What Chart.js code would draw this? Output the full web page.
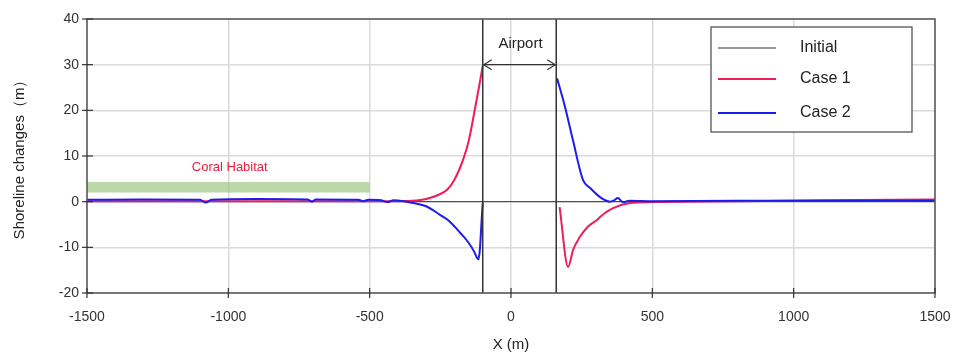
<!DOCTYPE html>
<html>
<head>
<meta charset="utf-8">
<script src="https://cdn.jsdelivr.net/npm/chart.js@4/dist/chart.umd.min.js"></script>
<style>
html,body{margin:0;padding:0;background:#fff;}
#wrap{width:960px;height:360px;}
</style>
</head>
<body>
<div id="wrap"><canvas id="c" width="960" height="360"></canvas></div>
<script>
// ---- data ----
const initialX = [-1500, 1500];
const initialY = [0, 0];

const case1X = [-1500,-1000,-600,-400,-350,-300,-260,-226,-200,-170,-150,-127,-115,-100, 30, 172,202,220,244,270,304,330,361,421,500,800,1100,1500];
const case1Y = [0.1,0.1,0.1,0.1,0.2,0.6,1.4,2.6,4.8,9.1,13.2,20.5,24.5,29.7, null, -1.2,-14.3,-10.5,-7.7,-5.6,-4,-2.6,-1.4,-0.3,-0.1,0.1,0.3,0.5];

const case2X = [-1500,-1300,-1100,-1080,-1060,-900,-720,-704,-690,-540,-523,-505,-460,-438,-415,-380,-346,-300,-251,-220,-180,-150,-130,-120,-115,-100, 30, 163,190,219,255,280,315,350,365,378,396,420,500,800,1100,1500];
const case2Y = [0.4,0.45,0.4,-0.2,0.4,0.6,0.5,0.0,0.5,0.4,0.1,0.4,0.3,-0.1,0.3,0.1,-0.3,-1.0,-2.9,-4.2,-6.8,-9.0,-11.0,-12.3,-12.6,-0.3, null, 27,21,13.5,4.7,3,1,0,0.3,0.8,-0.1,0.2,0.1,0.2,0.2,0.2];

const seriesNames = ['Initial', 'Case 1', 'Case 2'];
const airportX = [-100, 160];
const airportArrowY = 30;
const coralX = [-1500, -500];
const coralY = [2, 4.3];
const coralLabelPos = [-995, 7.4];
const xTicks = [-1500, -1000, -500, 0, 500, 1000, 1500];
const yTicks = [-20, -10, 0, 10, 20, 30, 40];

const colors = { initial: '#333333', case1: '#ee1c5a', case2: '#1c1cee' };
const FONT = '"Liberation Sans", Arial, sans-serif';

function pts(xs, ys){ return xs.map((x,i)=>({x:x, y:ys[i]})); }

const decor = {
  id: 'decor',
  beforeDatasetsDraw(chart){
    const {ctx, scales:{x, y}} = chart;
    ctx.save();
    const x0 = x.getPixelForValue(coralX[0]), x1 = x.getPixelForValue(coralX[1]);
    const y0 = y.getPixelForValue(coralY[1]), y1 = y.getPixelForValue(coralY[0]);
    ctx.fillStyle = 'rgba(160,200,130,0.7)';
    ctx.fillRect(x0, y0, x1 - x0, y1 - y0);
    ctx.fillStyle = '#ee1c3c';
    ctx.font = '13px ' + FONT;
    ctx.textAlign = 'center';
    ctx.textBaseline = 'middle';
    ctx.fillText('Coral Habitat', x.getPixelForValue(coralLabelPos[0]), y.getPixelForValue(coralLabelPos[1]));
    ctx.restore();
  },
  afterDatasetsDraw(chart){
    const {ctx, chartArea:a, scales:{x, y}} = chart;
    ctx.save();
    ctx.strokeStyle = '#333';
    ctx.lineWidth = 1.5;
    const ax0 = x.getPixelForValue(airportX[0]), ax1 = x.getPixelForValue(airportX[1]);
    [ax0, ax1].forEach(px => { ctx.beginPath(); ctx.moveTo(px, a.top); ctx.lineTo(px, a.bottom); ctx.stroke(); });
    const ay = y.getPixelForValue(airportArrowY);
    ctx.lineWidth = 1.2;
    ctx.beginPath(); ctx.moveTo(ax0, ay); ctx.lineTo(ax1, ay); ctx.stroke();
    ctx.beginPath();
    ctx.moveTo(ax0 + 9, ay - 5); ctx.lineTo(ax0 + 1, ay); ctx.lineTo(ax0 + 9, ay + 5);
    ctx.moveTo(ax1 - 9, ay - 5); ctx.lineTo(ax1 - 1, ay); ctx.lineTo(ax1 - 9, ay + 5);
    ctx.stroke();
    ctx.fillStyle = '#222';
    ctx.font = '15px ' + FONT;
    ctx.textAlign = 'center';
    ctx.textBaseline = 'middle';
    ctx.fillText('Airport', (ax0 + ax1) / 2 + 1, ay - 21);
    ctx.strokeStyle = '#555';
    ctx.lineWidth = 1.5;
    ctx.strokeRect(a.left, a.top, a.right - a.left, a.bottom - a.top);
    ctx.strokeStyle = '#333';
    ctx.lineWidth = 1.2;
    yTicks.forEach(v => { const py = y.getPixelForValue(v); ctx.beginPath(); ctx.moveTo(a.left - 5, py); ctx.lineTo(a.left + 6, py); ctx.stroke(); });
    xTicks.forEach(v => { const px = x.getPixelForValue(v); ctx.beginPath(); ctx.moveTo(px, a.bottom - 5); ctx.lineTo(px, a.bottom + 5); ctx.stroke(); });
    const lx = 711, ly = 27, lw = 201, lh = 105;
    ctx.fillStyle = '#fff';
    ctx.fillRect(lx, ly, lw, lh);
    ctx.strokeStyle = '#555';
    ctx.lineWidth = 1.3;
    ctx.strokeRect(lx, ly, lw, lh);
    const rows = [[colors.initial, 1, 48], [colors.case1, 2, 79], [colors.case2, 2, 113]];
    ctx.font = '16px ' + FONT;
    ctx.textAlign = 'left';
    ctx.textBaseline = 'middle';
    rows.forEach((r, i) => {
      ctx.strokeStyle = r[0]; ctx.lineWidth = r[1];
      ctx.beginPath(); ctx.moveTo(718, r[2]); ctx.lineTo(776, r[2]); ctx.stroke();
      ctx.fillStyle = '#222';
      ctx.fillText(seriesNames[i], 800, r[2]);
    });
    ctx.restore();
  }
};

new Chart(document.getElementById('c'), {
  type: 'scatter',
  data: {
    datasets: [
      { label: seriesNames[0], data: pts(initialX, initialY), showLine: true, borderColor: colors.initial, borderWidth: 1, pointRadius: 0, order: 3 },
      { label: seriesNames[1], data: pts(case1X, case1Y), showLine: true, borderColor: colors.case1, borderWidth: 2, pointRadius: 0, spanGaps: false, order: 2, cubicInterpolationMode: 'monotone' },
      { label: seriesNames[2], data: pts(case2X, case2Y), showLine: true, borderColor: colors.case2, borderWidth: 2, pointRadius: 0, spanGaps: false, order: 1, cubicInterpolationMode: 'monotone' }
    ]
  },
  options: {
    responsive: false,
    animation: false,
    devicePixelRatio: 1,
    layout: { padding: { left: 0, right: 25, top: 19, bottom: 0 } },
    plugins: { legend: { display: false }, tooltip: { enabled: false } },
    scales: {
      x: {
        type: 'linear', min: -1500, max: 1500,
        afterBuildTicks: s => { s.ticks = xTicks.map(v => ({value: v})); },
        afterFit: s => { s.height = 67; s.paddingLeft = 0; s.paddingRight = 0; },
        grid: { color: '#dadada', lineWidth: 1.5, drawTicks: false },
        border: { display: false },
        ticks: { padding: 16, color: '#333', font: { family: FONT, size: 14 }, maxRotation: 0, callback: v => String(v) },
        title: { display: true, text: 'X (m)', color: '#222', font: { family: FONT, size: 15 }, padding: { top: 6, bottom: 6 } }
      },
      y: {
        min: -20, max: 40,
        afterBuildTicks: s => { s.ticks = yTicks.map(v => ({value: v})); },
        afterFit: s => { s.width = 87; s.paddingTop = 0; s.paddingBottom = 0; },
        grid: { color: '#dadada', lineWidth: 1.5, drawTicks: false },
        border: { display: false },
        ticks: { padding: 8, color: '#333', font: { family: FONT, size: 14 }, callback: v => String(v) },
        title: { display: true, text: 'Shoreline changes（m）', color: '#222', font: { family: FONT, size: 15 }, padding: { top: 11, bottom: 0 } }
      }
    }
  },
  plugins: [decor]
});
</script>
</body>
</html>
